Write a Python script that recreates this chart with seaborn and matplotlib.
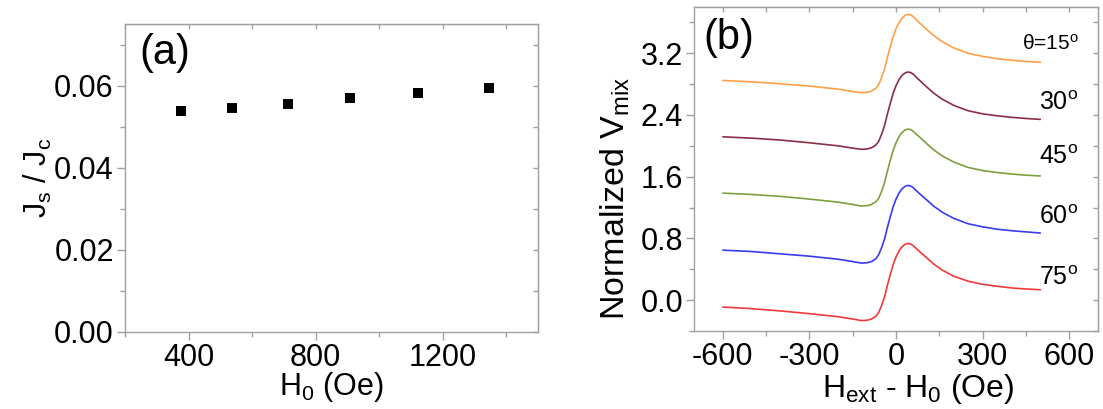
import numpy as np
import pandas as pd
import matplotlib
matplotlib.use("Agg")
import matplotlib.pyplot as plt
from matplotlib.ticker import MultipleLocator, FormatStrFormatter
import seaborn as sns

# ---------------- data ----------------
# panel (a)
H0 = [377, 536, 712, 908, 1121, 1346]
JsJc = [0.0537, 0.0546, 0.0556, 0.0569, 0.0582, 0.0595]

# panel (b)
Hext = [-600, -500, -400, -300, -200, -150, -120, -100, -85, -70, -60, -50, -40, -30, -20, -10, 0,
        10, 20, 30, 40, 50, 60, 70, 80, 100, 130, 160, 200, 250, 300, 350, 400, 450, 500]
V75 = [-0.09, -0.11, -0.14, -0.175, -0.215, -0.245, -0.265, -0.26, -0.245, -0.21, -0.16, -0.07, 0.04,
       0.19, 0.33, 0.46, 0.56, 0.635, 0.69, 0.72, 0.735, 0.73, 0.705, 0.67, 0.635, 0.57, 0.47, 0.39,
       0.31, 0.245, 0.205, 0.18, 0.158, 0.145, 0.135]
V60 = [0.648, 0.63, 0.60, 0.57, 0.53, 0.50, 0.48, 0.485, 0.50, 0.535, 0.59, 0.68, 0.79,
       0.94, 1.08, 1.21, 1.31, 1.385, 1.44, 1.472, 1.487, 1.482, 1.458, 1.42, 1.385, 1.32, 1.22, 1.14,
       1.06, 0.99, 0.95, 0.92, 0.90, 0.885, 0.87]
V45 = [1.387, 1.37, 1.345, 1.31, 1.27, 1.24, 1.22, 1.225, 1.24, 1.275, 1.32, 1.41, 1.52,
       1.67, 1.81, 1.94, 2.04, 2.115, 2.17, 2.202, 2.217, 2.212, 2.188, 2.15, 2.12, 2.05, 1.95, 1.87,
       1.79, 1.72, 1.68, 1.655, 1.635, 1.62, 1.61]
V30 = [2.117, 2.10, 2.075, 2.04, 2.0, 1.97, 1.955, 1.96, 1.975, 2.01, 2.06, 2.15, 2.26,
       2.41, 2.55, 2.68, 2.78, 2.855, 2.91, 2.942, 2.957, 2.952, 2.928, 2.89, 2.855, 2.785, 2.685, 2.605,
       2.525, 2.455, 2.415, 2.39, 2.37, 2.355, 2.343]
V15 = [2.848, 2.83, 2.805, 2.775, 2.735, 2.705, 2.69, 2.695, 2.71, 2.745, 2.795, 2.885, 2.995,
       3.145, 3.285, 3.415, 3.52, 3.595, 3.65, 3.688, 3.704, 3.699, 3.675, 3.635, 3.60, 3.53, 3.43, 3.35,
       3.27, 3.20, 3.16, 3.13, 3.11, 3.095, 3.083]
angles = ["15", "30", "45", "60", "75"]
curves = [V15, V30, V45, V60, V75]
colors = ["#FFA048", "#8B2E45", "#7E9E3E", "#3A3AF2", "#F03A3A"]
label_y = [3.32, 2.56, 1.86, 1.08, 0.29]

# ---------------- style ----------------
sns.set_style("white")
plt.rcParams["font.family"] = ["Liberation Sans", "DejaVu Sans"]
plt.rcParams["mathtext.default"] = "regular"
plt.rcParams["axes.unicode_minus"] = False
plt.rcParams["text.color"] = "black"
plt.rcParams["axes.labelcolor"] = "black"
FS = 22
frame_col = "#a0a0a0"

fig = plt.figure(figsize=(11.03, 4.09), dpi=100)
ax1 = fig.add_axes([0.1133, 0.1883, 0.3744, 0.7531])
ax2 = fig.add_axes([0.6292, 0.1907, 0.3663, 0.7922])


def style_axes(ax, xmaj, xmin, ymaj, ymin):
    for s in ax.spines.values():
        s.set_color(frame_col)
        s.set_linewidth(1.0)
    ax.xaxis.set_major_locator(MultipleLocator(xmaj))
    ax.xaxis.set_minor_locator(MultipleLocator(xmin))
    ax.yaxis.set_major_locator(MultipleLocator(ymaj))
    ax.yaxis.set_minor_locator(MultipleLocator(ymin))
    ax.tick_params(which="both", direction="out", color=frame_col, width=1.0,
                   labelsize=FS, labelcolor="black",
                   bottom=True, left=True, top=False, right=False, pad=2)
    ax.tick_params(which="major", length=6)
    ax.tick_params(which="minor", length=3.5)
    top = ax.secondary_xaxis("top")
    top.xaxis.set_major_locator(MultipleLocator(xmaj))
    top.xaxis.set_minor_locator(MultipleLocator(xmin))
    top.tick_params(which="both", direction="in", color=frame_col, width=1.0,
                    labeltop=False, length=3.5)
    top.spines["top"].set_color(frame_col)
    right = ax.secondary_yaxis("right")
    right.yaxis.set_major_locator(MultipleLocator(ymaj))
    right.yaxis.set_minor_locator(MultipleLocator(ymin))
    right.tick_params(which="both", direction="in", color=frame_col, width=1.0,
                      labelright=False, length=3.5)
    right.spines["right"].set_color(frame_col)


# ---------------- panel (a) ----------------
sns.scatterplot(x=H0, y=JsJc, marker="s", color="black", s=44, linewidth=0, ax=ax1)
ax1.set_xlim(200, 1500)
ax1.set_ylim(0, 0.075)
style_axes(ax1, 400, 200, 0.02, 0.01)
ax1.yaxis.set_major_formatter(FormatStrFormatter("%.2f"))
ax1.set_xlabel("H$_0$ (Oe)", fontsize=FS, labelpad=-2)
ax1.set_ylabel("J$_s$ / J$_c$", fontsize=FS, labelpad=0)
ax1.text(0.034, 0.905, "(a)", transform=ax1.transAxes, fontsize=30, va="center", ha="left")

# ---------------- panel (b) ----------------
df = pd.concat([pd.DataFrame({"H": Hext, "V": v, "theta": a}) for a, v in zip(angles, curves)])
sns.lineplot(data=df, x="H", y="V", hue="theta", palette=dict(zip(angles, colors)),
             estimator=None, sort=False, linewidth=1.2, legend=False, ax=ax2)
ax2.set_xlim(-700, 700)
ax2.set_ylim(-0.4, 3.8)
style_axes(ax2, 300, 150, 0.8, 0.4)
ax2.yaxis.set_major_formatter(FormatStrFormatter("%.1f"))
ax2.set_xlabel("H$_{ext}$ - H$_0$ (Oe)", fontsize=23)
ax2.xaxis.set_label_coords(0.554, -0.128)
ax2.set_ylabel("Normalized V$_{mix}$", fontsize=24.5)
ax2.yaxis.set_label_coords(-0.153, 0.41)
ax2.text(0.022, 0.905, "(b)", transform=ax2.transAxes, fontsize=30, va="center", ha="left")
for a, yy in zip(angles, label_y):
    if a == "15":
        ax2.text(632, yy, "θ=15$^o$", fontsize=15, ha="right", va="center")
    else:
        ax2.text(632, yy, a + "$^o$", fontsize=18, ha="right", va="center")

fig.savefig("out.png", dpi=100)
